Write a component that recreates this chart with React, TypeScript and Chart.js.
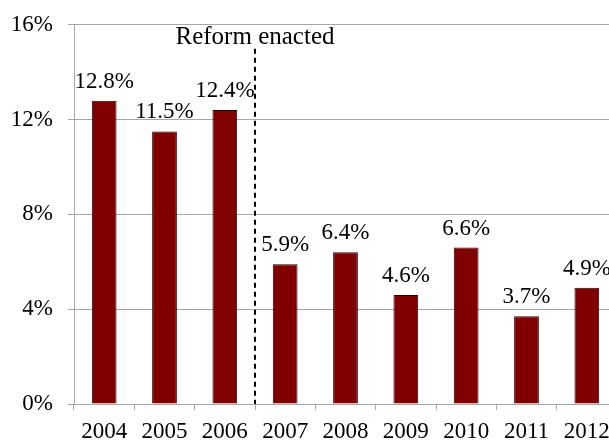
import React, { useEffect, useRef } from "react";
import { Chart, registerables } from "chart.js";

Chart.register(...registerables);

const categories = ["2004", "2005", "2006", "2007", "2008", "2009", "2010", "2011", "2012"];
const values = [12.8, 11.5, 12.4, 5.9, 6.4, 4.6, 6.6, 3.7, 4.9];
const yTicks = [0, 4, 8, 12, 16];
const reformAfterIndex = 2;
const reformLabel = "Reform enacted";

const FONT = "'Liberation Serif', 'Times New Roman', serif";

export default function App() {
  const ref = useRef<HTMLCanvasElement | null>(null);

  useEffect(() => {
    if (!ref.current) return;

    const overlay = {
      id: "overlay",
      afterDatasetsDraw(chart: any) {
        const ctx = chart.ctx;
        const x = chart.scales.x;
        const area = chart.chartArea;
        const meta = chart.getDatasetMeta(0);
        ctx.save();
        ctx.font = `23px ${FONT}`;
        ctx.fillStyle = "#000";
        ctx.textAlign = "center";
        ctx.textBaseline = "alphabetic";
        meta.data.forEach((bar: any, i: number) => {
          ctx.fillText(values[i].toFixed(1) + "%", bar.x, bar.y - 13);
        });
        const lx = Math.round((x.getPixelForValue(reformAfterIndex) + x.getPixelForValue(reformAfterIndex + 1)) / 2);
        ctx.strokeStyle = "#000";
        ctx.lineWidth = 2;
        ctx.setLineDash([5, 4]);
        ctx.beginPath();
        ctx.moveTo(lx, area.top + 24);
        ctx.lineTo(lx, area.bottom);
        ctx.stroke();
        ctx.setLineDash([]);
        ctx.font = `25px ${FONT}`;
        ctx.fillText(reformLabel, lx, area.top + 19);
        ctx.restore();
      },
    };

    const chart = new Chart(ref.current, {
      type: "bar",
      data: {
        labels: categories,
        datasets: [
          {
            data: values,
            backgroundColor: "#800000",
            borderColor: "#2a0000",
            borderWidth: 1,
            barPercentage: 0.41,
            categoryPercentage: 1,
          },
        ],
      },
      options: {
        responsive: false,
        animation: false,
        devicePixelRatio: 1,
        layout: { padding: { top: 20, right: 23, left: 0, bottom: 0 } },
        plugins: {
          legend: { display: false },
          tooltip: { enabled: false },
        },
        scales: {
          x: {
            grid: {
              offset: true,
              drawOnChartArea: false,
              drawTicks: true,
              tickLength: 6,
              color: "#a6a6a6",
            },
            border: { display: true, color: "#a6a6a6" },
            ticks: {
              color: "#000",
              font: { family: FONT, size: 23 },
              padding: 8,
              maxRotation: 0,
              autoSkip: false,
            },
            afterFit(scale: any) {
              scale.height = 36;
            },
          },
          y: {
            min: 0,
            max: 16,
            afterBuildTicks(scale: any) {
              scale.ticks = yTicks.map((v) => ({ value: v }));
            },
            grid: {
              color: "#a6a6a6",
              tickLength: 6,
              drawTicks: true,
            },
            border: { display: true, color: "#a6a6a6" },
            ticks: {
              color: "#000",
              font: { family: FONT, size: 23 },
              padding: 15,
              callback: (v: any) => v + "%",
            },
            afterFit(scale: any) {
              scale.width = 74;
            },
          },
        },
      },
      plugins: [overlay],
    });

    return () => chart.destroy();
  }, []);

  return (
    <div
      style={{
        position: "fixed",
        left: 0,
        top: 0,
        width: 609,
        height: 440,
        overflow: "hidden",
        background: "#fff",
      }}
    >
      <canvas ref={ref} width={640} height={444} style={{ display: "block", marginTop: -4 }} />
    </div>
  );
}
